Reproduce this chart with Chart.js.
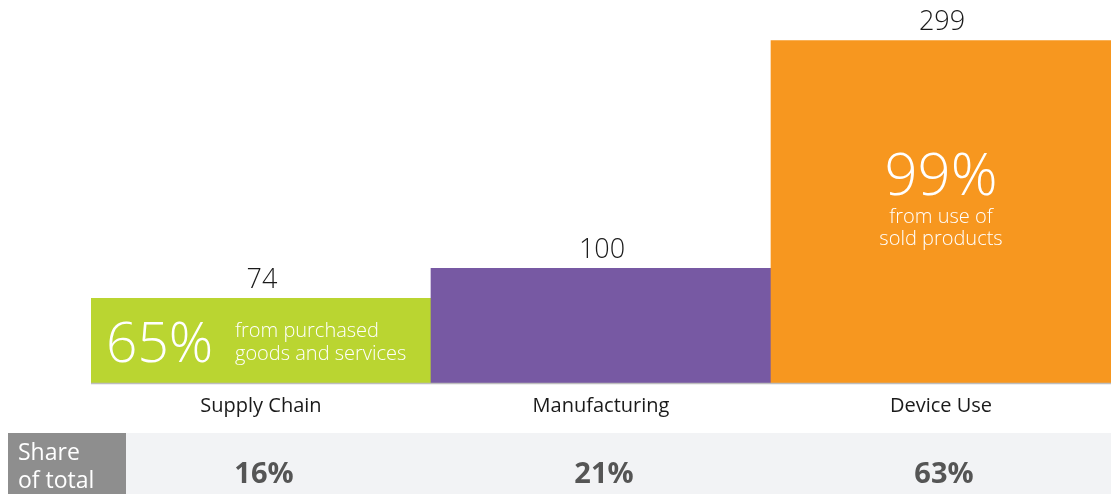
<!DOCTYPE html>
<html>
<head>
<meta charset="utf-8">
<script src="https://cdn.jsdelivr.net/npm/chart.js@4"></script>
<style>
  html, body { margin: 0; padding: 0; background: #fff; }
  #wrap { width: 1111px; height: 494px; position: relative; }
</style>
</head>
<body>
<div id="wrap"><canvas id="emissionsChart" width="1111" height="494"></canvas></div>
<script>
// chart data
const categories = ['Supply Chain', 'Manufacturing', 'Device Use'];
const values = [74, 100, 299];
const shares = ['16%', '21%', '63%'];
const barColors = ['#bad531', '#7759a3', '#f7971f'];
const notePct = ['65%', '', '99%'];
const noteText = [['from purchased', 'goods and services'], [], ['from use of', 'sold products']];

const FONT = '"Open Sans", Lato, sans-serif';

// draws value labels, category labels, notes and the share row
const overlayPlugin = {
    id: 'overlay',
    afterDatasetsDraw(chart) {
        const ctx = chart.ctx;
        const xs = chart.scales.x;
        const ys = chart.scales.y;
        const area = chart.chartArea;
        const meta = chart.getDatasetMeta(0);
        ctx.save();

        // baseline
        ctx.strokeStyle = '#bdbdbd';
        ctx.lineWidth = 1.5;
        ctx.beginPath();
        ctx.moveTo(area.left, area.bottom + 0.5);
        ctx.lineTo(area.right, area.bottom + 0.5);
        ctx.stroke();

        ctx.textAlign = 'center';
        ctx.textBaseline = 'middle';
        meta.data.forEach((bar, i) => {
            const cx = xs.getPixelForValue(i);
            // value above bar
            ctx.fillStyle = '#1a1a1a';
            ctx.font = '300 27px ' + FONT;
            ctx.fillText(String(values[i]), cx + 1, ys.getPixelForValue(values[i]) - 18);
            // category label
            ctx.font = '400 20px ' + FONT;
            ctx.fillText(categories[i], cx, area.bottom + 23);
        });

        // notes inside bars
        ctx.fillStyle = '#ffffff';
        // supply chain: side-by-side layout
        const b0 = meta.data[0];
        const y0 = (b0.y + b0.base) / 2;
        ctx.textAlign = 'left';
        ctx.font = '300 55px ' + FONT;
        ctx.fillText(notePct[0], b0.x - b0.width / 2 + 15, y0 + 6);
        ctx.font = '300 20px ' + FONT;
        ctx.fillText(noteText[0][0], b0.x - b0.width / 2 + 144, y0 - 9);
        ctx.fillText(noteText[0][1], b0.x - b0.width / 2 + 144, y0 + 14);

        // device use: stacked layout
        const b2 = meta.data[2];
        const y2 = ys.getPixelForValue(values[2] * 0.6);
        ctx.textAlign = 'center';
        ctx.font = '300 58px ' + FONT;
        ctx.fillText(notePct[2], b2.x, y2 + 1);
        ctx.font = '300 20px ' + FONT;
        ctx.fillText(noteText[2][0], b2.x, y2 + 40);
        ctx.fillText(noteText[2][1], b2.x, y2 + 62);

        // share row
        const rowTop = 433, rowBottom = 494;
        ctx.fillStyle = '#f2f3f5';
        ctx.fillRect(126, rowTop, area.right - 126, rowBottom - rowTop);
        ctx.fillStyle = '#8e8e8e';
        ctx.fillRect(8, rowTop, 118, rowBottom - rowTop);
        ctx.fillStyle = '#ffffff';
        ctx.textAlign = 'left';
        ctx.font = '400 23px ' + FONT;
        ctx.fillText('Share', 18, 453);
        ctx.fillText('of total', 18, 481);

        ctx.textAlign = 'center';
        ctx.fillStyle = '#555555';
        ctx.font = '700 29px ' + FONT;
        shares.forEach((s, i) => {
            ctx.fillText(s, xs.getPixelForValue(i) + 3, 475);
        });
        ctx.restore();
    }
};

const ctx = document.getElementById('emissionsChart').getContext('2d');
new Chart(ctx, {
    type: 'bar',
    data: {
        labels: categories,
        datasets: [{
            data: values,
            backgroundColor: barColors,
            borderWidth: 0,
            categoryPercentage: 1.0,
            barPercentage: 1.0
        }]
    },
    options: {
        responsive: false,
        animation: false,
        layout: { padding: { left: 91, right: 0, top: 5, bottom: 111 } },
        plugins: {
            legend: { display: false },
            tooltip: { enabled: false }
        },
        scales: {
            x: { display: false },
            y: { display: false, min: 0, max: 330 }
        }
    },
    plugins: [overlayPlugin]
});
</script>
</body>
</html>
